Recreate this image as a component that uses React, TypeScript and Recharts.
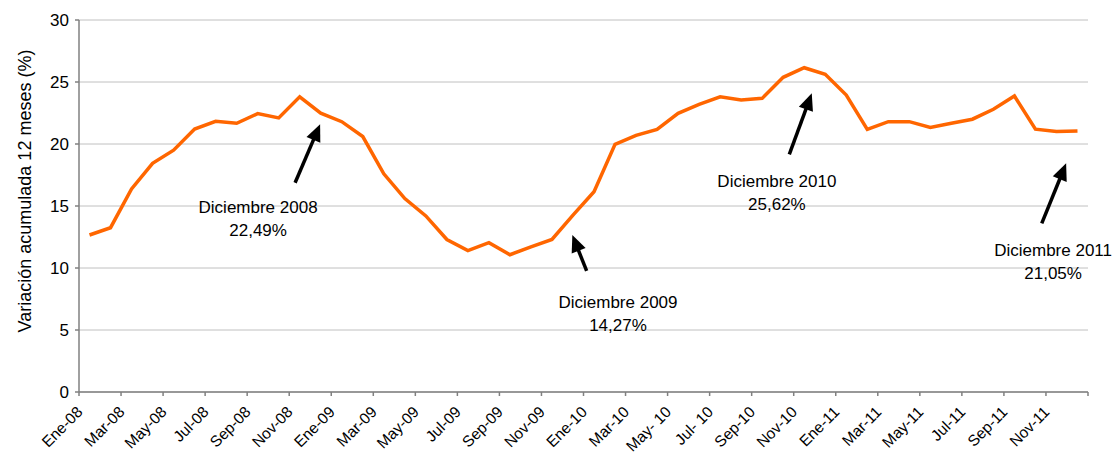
import React from 'react';
import { LineChart, Line, XAxis, YAxis, CartesianGrid, ReferenceLine, ReferenceDot } from 'recharts';

const categories = [
  'Ene-08','Feb-08','Mar-08','Abr-08','May-08','Jun-08','Jul-08','Ago-08','Sep-08','Oct-08','Nov-08','Dic-08',
  'Ene-09','Feb-09','Mar-09','Abr-09','May-09','Jun-09','Jul-09','Ago-09','Sep-09','Oct-09','Nov-09','Dic-09',
  'Ene-10','Feb-10','Mar-10','Abr-10','May-10','Jun-10','Jul-10','Ago-10','Sep-10','Oct-10','Nov-10','Dic-10',
  'Ene-11','Feb-11','Mar-11','Abr-11','May-11','Jun-11','Jul-11','Ago-11','Sep-11','Oct-11','Nov-11','Dic-11',
];

const tickLabels = [
  'Ene-08','','Mar-08','','May-08','','Jul-08','','Sep-08','','Nov-08','',
  'Ene-09','','Mar-09','','May-09','','Jul-09','','Sep-09','','Nov-09','',
  'Ene-10','','Mar-10','','May- 10','','Jul- 10','','Sep-10','','Nov-10','',
  'Ene-11','','Mar-11','','May-11','','Jul-11','','Sep-11','','Nov-11','',
];

const values = [
  12.66, 13.25, 16.37, 18.44, 19.5, 21.2, 21.83, 21.67, 22.45, 22.1, 23.8, 22.49,
  21.8, 20.6, 17.6, 15.6, 14.2, 12.3, 11.4, 12.04, 11.07, 11.7, 12.3, 14.27,
  16.15, 19.97, 20.7, 21.18, 22.47, 23.2, 23.8, 23.55, 23.68, 25.38, 26.15, 25.62,
  23.95, 21.18, 21.8, 21.8, 21.34, 21.67, 22.0, 22.8, 23.87, 21.2, 21.0, 21.05,
];

const yTicks = [0, 5, 10, 15, 20, 25, 30];

// annotations: arrow tail -> head (index, value) and text anchor
const annTitles = ['Diciembre 2008', 'Diciembre 2009', 'Diciembre 2010', 'Diciembre 2011'];
const annValues = ['22,49%', '14,27%', '25,62%', '21,05%'];
const annArrowTail = [[9.78, 16.88], [23.65, 9.76], [33.29, 19.16], [45.3, 13.6]];
const annArrowHead = [[10.97, 21.59], [22.97, 12.66], [34.36, 24.09], [46.46, 18.44]];
const annTextPos = [[8.02, 14.44], [25.14, 6.77], [32.7, 16.53], [45.84, 10.97]];

const data = values.map((v, i) => ({ i, label: categories[i], value: v }));
const xTicks = Array.from({ length: 25 }, (_, k) => -0.5 + 2 * k);

const W = 1115;
const H = 455;
const M = { top: 20, right: 27, bottom: 0, left: 0 };
const Y_W = 79;
const X_H = 63;
const PLOT_W = W - M.left - M.right - Y_W;
const HALF = PLOT_W / categories.length / 2;
const FONT = '"Liberation Sans", Arial, sans-serif';

const XTick = (props: any) => {
  const { x, y, payload } = props;
  const idx = Math.round(payload.value + 0.5);
  const lbl = tickLabels[idx];
  if (!lbl) return null;
  const ax = x + HALF - 6;
  const ay = y + 15;
  return (
    <text x={ax} y={ay} textAnchor="end" fontSize={15.5} fill="#000" fontFamily={FONT}
      transform={`rotate(-45, ${ax}, ${ay})`}>{lbl}</text>
  );
};

const Arrow = (props: any) => {
  const { x1, y1, x2, y2 } = props;
  if ([x1, y1, x2, y2].some((v) => typeof v !== 'number' || isNaN(v))) return null;
  const dx = x2 - x1;
  const dy = y2 - y1;
  const len = Math.sqrt(dx * dx + dy * dy);
  const ux = dx / len;
  const uy = dy / len;
  const hl = 17;
  const hw = 7.5;
  const bx = x2 - ux * hl;
  const by = y2 - uy * hl;
  const px = -uy;
  const py = ux;
  return (
    <g>
      <line x1={x1} y1={y1} x2={bx + ux * 2} y2={by + uy * 2} stroke="#000" strokeWidth={3.5} />
      <polygon points={`${x2},${y2} ${bx + px * hw},${by + py * hw} ${bx - px * hw},${by - py * hw}`} fill="#000" />
    </g>
  );
};

const makeText = (k: number) => (props: any) => {
  const { cx, cy } = props;
  return (
    <text x={cx} y={cy} textAnchor="middle" fontSize={17} fill="#000" fontFamily={FONT}>
      <tspan x={cx} dy={0}>{annTitles[k]}</tspan>
      <tspan x={cx} dy={23}>{annValues[k]}</tspan>
    </text>
  );
};

const YTitle = (props: any) => {
  const { viewBox } = props;
  const x = 31;
  const y = viewBox.y + viewBox.height / 2 - 15;
  return (
    <text x={x} y={y} textAnchor="middle" fontSize={18} fill="#000" fontFamily={FONT}
      transform={`rotate(-90, ${x}, ${y})`}>Variación acumulada 12 meses (%)</text>
  );
};

export default function App() {
  return (
    <div style={{ position: 'absolute', left: 0, top: 0, width: W, height: H, background: '#fff' }}>
      <LineChart width={W} height={H} data={data} margin={M}>
        <CartesianGrid vertical={false} stroke="#c0c0c0" strokeWidth={1} />
        <XAxis
          type="number"
          dataKey="i"
          domain={[-0.5, 47.5]}
          ticks={xTicks}
          interval={0}
          height={X_H}
          tickSize={4}
          tickMargin={2}
          axisLine={{ stroke: '#808080', strokeWidth: 1.5 }}
          tickLine={{ stroke: '#808080', strokeWidth: 1.5 }}
          tick={<XTick />}
        />
        <YAxis
          type="number"
          domain={[0, 30]}
          ticks={yTicks}
          interval={0}
          width={Y_W}
          tickSize={4}
          tickMargin={6}
          axisLine={{ stroke: '#808080', strokeWidth: 1.5 }}
          tickLine={{ stroke: '#808080', strokeWidth: 1.5 }}
          tick={{ fontSize: 17, fill: '#000', fontFamily: FONT }}
          label={{ content: (p: any) => <YTitle {...p} /> }}
        />
        <Line
          type="linear"
          dataKey="value"
          stroke="#ff6600"
          strokeWidth={3.5}
          dot={false}
          activeDot={false}
          isAnimationActive={false}
        />
        {annArrowTail.map((t, k) => (
          <ReferenceLine
            key={`a${k}`}
            segment={[{ x: t[0], y: t[1] }, { x: annArrowHead[k][0], y: annArrowHead[k][1] }]}
            ifOverflow="visible"
            shape={(p: any) => <Arrow {...p} />}
          />
        ))}
        {annTextPos.map((p, k) => (
          <ReferenceDot key={`t${k}`} x={p[0]} y={p[1]} r={0} ifOverflow="visible" shape={makeText(k)} />
        ))}
      </LineChart>
    </div>
  );
}
